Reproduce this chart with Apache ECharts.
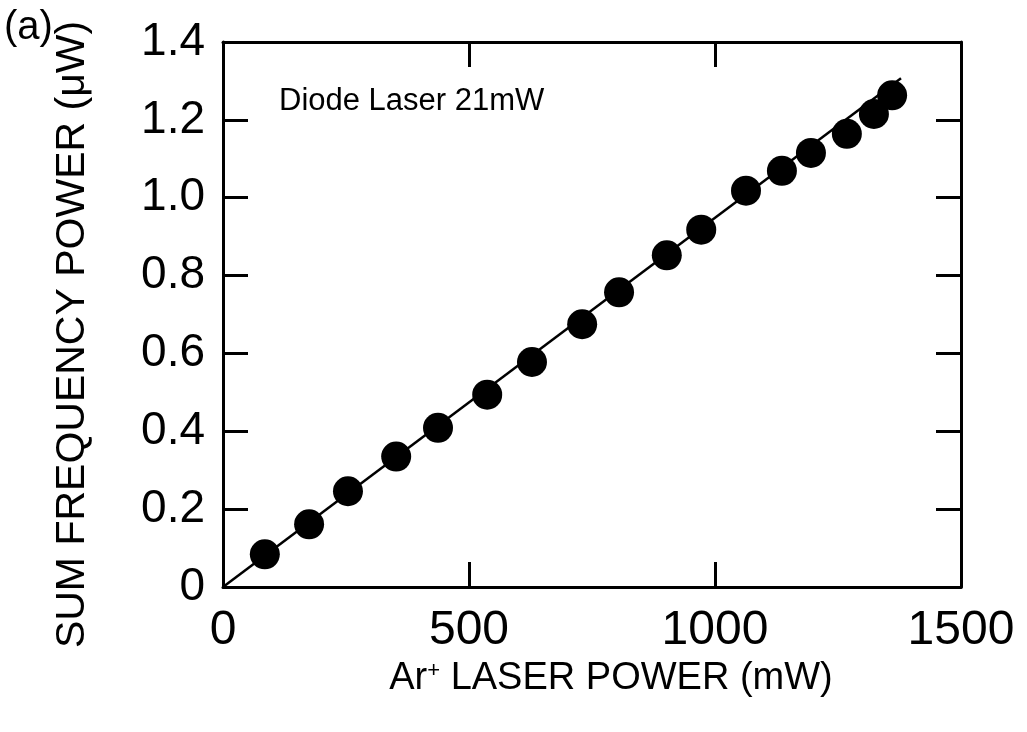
<!DOCTYPE html>
<html>
<head>
<meta charset="utf-8">
<script src="https://cdn.jsdelivr.net/npm/echarts@6/dist/echarts.min.js"></script>
<style>
  html, body { margin: 0; padding: 0; background: #fff; }
  #chart { width: 1027px; height: 732px; }
</style>
</head>
<body>
<div id="chart"></div>
<script>
  // measured points: Ar+ laser power (mW) vs sum frequency power (uW)
  const arPower = [85, 175, 254, 352, 437, 537, 628, 730, 805, 902, 972, 1063, 1136, 1195, 1268, 1323, 1360];
  const sumPower = [0.084, 0.161, 0.246, 0.335, 0.409, 0.494, 0.578, 0.675, 0.757, 0.852, 0.918, 1.018, 1.069, 1.115, 1.164, 1.215, 1.263];

  // straight fit line through origin
  const fitX = [0, 1378];
  const fitY = [0, 1.307];

  const xTicks = [0, 500, 1000, 1500];
  const yTicks = [0, 0.2, 0.4, 0.6, 0.8, 1.0, 1.2, 1.4];

  const font = '"Liberation Sans", Arial, Helvetica, sans-serif';
  const ink = '#000';

  const chart = echarts.init(document.getElementById('chart'), null, { renderer: 'canvas' });

  const frameAxis = {
    axisLine: { show: true, onZero: false, lineStyle: { color: ink, width: 3 } },
    axisTick: { show: true, inside: true, length: 25, lineStyle: { color: ink, width: 3 } },
    splitLine: { show: false },
  };

  const option = {
    backgroundColor: '#fff',
    animation: false,
    grid: { left: 223, right: 66, top: 42, bottom: 145 },
    xAxis: [
      {
        type: 'value',
        min: xTicks[0],
        max: xTicks[xTicks.length - 1],
        interval: 500,
        position: 'bottom',
        ...frameAxis,
        axisLabel: {
          color: ink,
          fontSize: 48,
          fontFamily: font,
          margin: 20,
          formatter: (v) => String(v),
        },
        name: '{n|Ar}{sup|+}{n| LASER POWER (mW)}',
        nameLocation: 'middle',
        nameGap: 68,
        nameTextStyle: {
          padding: [0, 0, 0, 38],
          rich: {
            n: { fontSize: 38, fontFamily: font, color: ink },
            sup: { fontSize: 22, fontFamily: font, color: ink, padding: [0, 0, 16, 0] },
          },
        },
      },
      {
        type: 'value',
        min: xTicks[0],
        max: xTicks[xTicks.length - 1],
        interval: 500,
        position: 'top',
        ...frameAxis,
        axisLabel: { show: false },
      },
    ],
    yAxis: [
      {
        type: 'value',
        min: yTicks[0],
        max: yTicks[yTicks.length - 1],
        interval: 0.2,
        position: 'left',
        ...frameAxis,
        axisLabel: {
          color: ink,
          fontSize: 46,
          fontFamily: font,
          margin: 18,
          formatter: (v) => (v === 0 ? '0' : v.toFixed(1)),
        },
        name: 'SUM FREQUENCY POWER (μW)',
        nameLocation: 'middle',
        nameGap: 130,
        nameTextStyle: { color: ink, fontSize: 41, fontFamily: font, padding: [0, 40, 0, 0] },
      },
      {
        type: 'value',
        min: yTicks[0],
        max: yTicks[yTicks.length - 1],
        interval: 0.2,
        position: 'right',
        ...frameAxis,
        axisLabel: { show: false },
      },
    ],
    graphic: [
      {
        type: 'text',
        left: 4,
        top: 8,
        style: { text: '(a)', fill: ink, fontSize: 40, fontFamily: font },
      },
      {
        type: 'text',
        left: 279,
        top: 86,
        style: { text: 'Diode Laser 21mW', fill: ink, fontSize: 31, fontFamily: font },
      },
    ],
    series: [
      {
        name: 'fit',
        type: 'line',
        data: fitX.map((x, i) => [x, fitY[i]]),
        symbol: 'none',
        lineStyle: { color: ink, width: 2.5 },
        z: 2,
      },
      {
        name: 'data',
        type: 'scatter',
        data: arPower.map((x, i) => [x, sumPower[i]]),
        symbol: 'circle',
        symbolSize: 30,
        itemStyle: { color: ink, opacity: 1 },
        z: 3,
      },
    ],
  };

  chart.setOption(option);
</script>
</body>
</html>
